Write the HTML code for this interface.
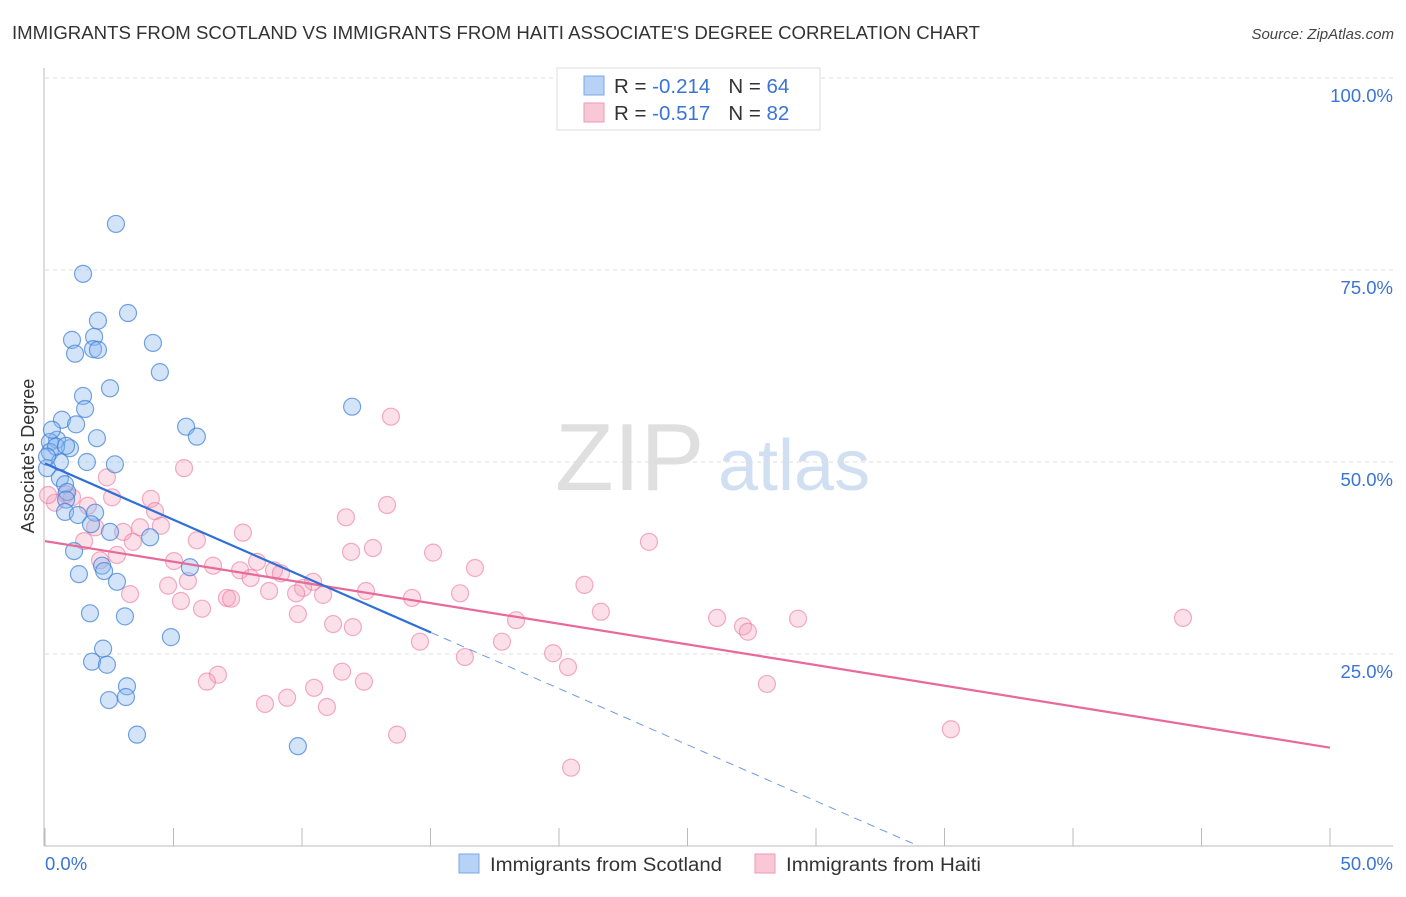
<!DOCTYPE html>
<html><head><meta charset="utf-8">
<style>
body{margin:0;background:#fff;font-family:"Liberation Sans",sans-serif;}
svg text{font-family:"Liberation Sans",sans-serif;}
</style></head>
<body>
<svg id="chart" width="1406" height="892" xmlns="http://www.w3.org/2000/svg">
<text x="12" y="39" font-size="18" fill="#333" textLength="968" lengthAdjust="spacingAndGlyphs">IMMIGRANTS FROM SCOTLAND VS IMMIGRANTS FROM HAITI ASSOCIATE'S DEGREE CORRELATION CHART</text>
<text x="1394" y="39" font-size="15" fill="#444" text-anchor="end" font-style="italic">Source: ZipAtlas.com</text>
<g>
<text x="555" y="490" font-size="96" fill="#d8d8d8" font-family="Liberation Serif" opacity="0.8">ZIP</text>
<text x="718" y="490" font-size="72" fill="#c5d8ef" opacity="0.8">atlas</text>
</g>
<g id="grid"></g>
<g id="axes"></g>
<g id="points"></g>
<g id="trends"></g>
<text transform="translate(34,456) rotate(-90)" font-size="18" fill="#333" text-anchor="middle">Associate's Degree</text>
<g>
<rect x="557" y="68" width="263" height="62" fill="#fff" stroke="#ddd"/>
<rect x="584" y="76" width="20" height="19" fill="#b7d2f5" stroke="#7aa7e6"/>
<rect x="584" y="103" width="20" height="19" fill="#f9c8d6" stroke="#ef9ab4"/>
<text x="614" y="93" font-size="20.5" fill="#333">R = <tspan fill="#3a74d4">-0.214</tspan><tspan dx="18">N = </tspan><tspan fill="#3a74d4">64</tspan></text>
<text x="614" y="120" font-size="20.5" fill="#333">R = <tspan fill="#3a74d4">-0.517</tspan><tspan dx="18">N = </tspan><tspan fill="#3a74d4">82</tspan></text>
</g>
<g>
<rect x="459" y="854" width="20" height="19" fill="#b7d2f5" stroke="#7aa7e6"/>
<text x="490" y="871" font-size="19" fill="#333" textLength="232" lengthAdjust="spacingAndGlyphs">Immigrants from Scotland</text>
<rect x="755" y="854" width="20" height="19" fill="#f9c8d6" stroke="#ef9ab4"/>
<text x="786" y="871" font-size="19" fill="#333" textLength="195" lengthAdjust="spacingAndGlyphs">Immigrants from Haiti</text>
</g>
</svg>
<script>
const yTicks=[25,50,75,100];
const yTickLabels=["25.0%","50.0%","75.0%","100.0%"];
const xTicks=[0,5,10,15,20,25,30,35,40,45,50];
const xTickLabels=["0.0%","50.0%"];
const scotlandX=[2.76,1.48,3.23,2.06,1.05,1.91,4.20,1.17,1.87,2.06,4.47,2.53,1.48,1.56,0.66,1.21,11.95,5.49,5.91,2.02,0.47,0.19,0.97,0.19,0.58,1.63,2.72,0.08,0.58,0.78,0.86,0.82,0.78,1.28,1.95,1.79,2.53,4.09,1.13,2.22,2.30,5.64,1.32,2.80,1.75,3.11,4.90,2.26,1.83,2.41,3.19,3.15,2.49,3.58,9.84,0.43,0.08,0.27,0.82];
const scotlandY=[81.0,74.5,69.4,68.4,65.9,66.3,65.5,64.1,64.7,64.6,61.7,59.6,58.6,56.9,55.5,54.9,57.2,54.6,53.3,53.1,52.9,52.6,51.8,51.3,50.0,50.0,49.7,49.2,47.9,47.1,46.1,45.1,43.5,43.1,43.4,41.9,40.9,40.2,38.4,36.5,35.8,36.3,35.4,34.4,30.3,29.9,27.2,25.7,24.0,23.6,20.8,19.4,19.0,14.5,13.0,52.0,50.7,54.2,52.1];
const haitiX=[13.46,5.41,2.41,0.82,1.05,4.12,2.61,0.39,1.67,13.31,4.28,11.71,3.70,4.51,1.95,3.04,7.70,1.52,3.42,5.91,23.5,12.76,11.91,15.1,2.80,2.14,5.02,8.25,6.54,7.59,16.73,8.91,9.18,8.00,5.56,10.43,20.99,4.79,10.04,8.72,12.49,3.31,16.15,9.77,10.82,14.28,5.29,7.08,7.24,6.11,9.84,21.63,18.33,26.15,29.30,44.28,11.21,11.98,27.16,27.35,14.59,17.78,16.34,19.77,20.35,11.56,6.73,6.30,12.41,10.47,28.09,9.42,8.56,10.97,13.70,35.25,20.47,0.12];
const haitiY=[55.9,49.2,48.0,45.8,45.4,45.2,45.4,44.7,44.3,44.4,43.6,42.8,41.5,41.7,41.5,40.9,40.8,39.7,39.6,39.8,39.6,38.8,38.3,38.2,37.9,37.2,37.1,37.0,36.5,35.9,36.2,35.9,35.5,34.9,34.5,34.4,34.0,33.9,33.6,33.2,33.2,32.8,32.9,32.9,32.7,32.3,31.9,32.3,32.2,30.9,30.2,30.5,29.4,29.7,29.6,29.7,28.9,28.5,28.6,27.9,26.6,26.6,24.6,25.1,23.3,22.7,22.3,21.4,21.4,20.6,21.1,19.3,18.5,18.1,14.5,15.2,10.2,45.7];
const scotlandTrend=[49.8,-1.465];
const haitiTrend=[39.7,-0.538];
const scotlandSolidEnd=15.02;

const NS="http://www.w3.org/2000/svg";
const X=v=>45+v*25.7;
const Y=v=>846-v*7.68;
function mk(tag,attrs,parent){const e=document.createElementNS(NS,tag);for(const k in attrs)e.setAttribute(k,attrs[k]);document.getElementById(parent).appendChild(e);return e;}

yTicks.forEach((t,i)=>{
  const g=mk('line',{x1:45,x2:1393,y1:Y(t),y2:Y(t),stroke:'#ddd','stroke-dasharray':'4,4'},'grid');
  
  
  const l=mk('text',{x:1393,y:Y(t)+24,'font-size':18.5,fill:'#3a74d4','text-anchor':'end'},'axes');
  l.textContent=yTickLabels[i];
  
  
});
const ya=mk('line',{x1:44,x2:44,y1:68,y2:846,stroke:'#bbb'},'axes');


const xa=mk('line',{x1:44,x2:1393,y1:846,y2:846,stroke:'#bbb'},'axes');


xTicks.forEach(t=>{
  const k=mk('line',{x1:X(t),x2:X(t),y1:828,y2:846,stroke:'#bbb'},'axes');
  
  
});
const xl0=mk('text',{x:45,y:870,'font-size':18.5,fill:'#3a74d4'},'axes');
xl0.textContent=xTickLabels[0];


const xl1=mk('text',{x:1393,y:870,'font-size':18.5,fill:'#3a74d4','text-anchor':'end'},'axes');
xl1.textContent=xTickLabels[1];



haitiX.forEach((v,i)=>{
  const c=mk('circle',{cx:X(v),cy:Y(haitiY[i]),r:8.5,fill:'rgba(244,160,186,0.32)',stroke:'rgba(236,120,156,0.6)','stroke-width':1.2},'points');
  
  
});
scotlandX.forEach((v,i)=>{
  const c=mk('circle',{cx:X(v),cy:Y(scotlandY[i]),r:8.5,fill:'rgba(140,185,240,0.38)',stroke:'rgba(60,125,215,0.7)','stroke-width':1.2},'points');
  
  
});
const f=(tr,x)=>tr[0]+tr[1]*x;
const ht=mk('line',{x1:X(0),y1:Y(f(haitiTrend,0)),x2:X(50),y2:Y(f(haitiTrend,50)),stroke:'#e8699a','stroke-width':2.2},'trends');


const st=mk('line',{x1:X(0),y1:Y(f(scotlandTrend,0)),x2:X(scotlandSolidEnd),y2:Y(f(scotlandTrend,scotlandSolidEnd)),stroke:'#2f6fd6','stroke-width':2.2},'trends');


const xEnd=-scotlandTrend[0]/scotlandTrend[1];
const sd=mk('line',{x1:X(scotlandSolidEnd),y1:Y(f(scotlandTrend,scotlandSolidEnd)),x2:X(xEnd),y2:Y(0),stroke:'#6f9be0','stroke-width':1,'stroke-dasharray':'8,6'},'trends');


</script>
</body></html>
